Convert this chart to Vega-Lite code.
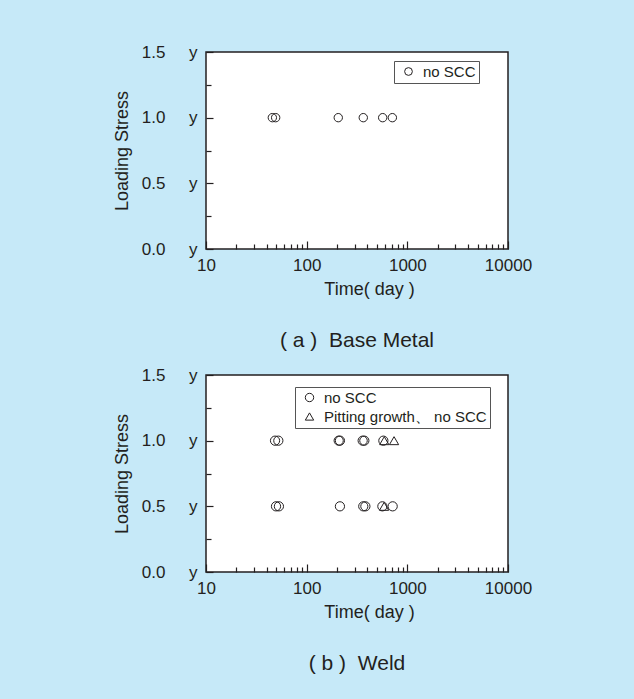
{
  "$schema": "https://vega.github.io/schema/vega-lite/v6.json",
  "autosize": {"type": "none"},
  "padding": {"left": 206, "top": 52, "right": 428, "bottom": 647},
  "background": "#c6e9f8",
  "bounds": "flush",
  "spacing": 126,
  "config": {
    "font": "Liberation Sans",
    "view": {"stroke": "#231f20", "strokeWidth": 1.5, "fill": "white"},
    "axis": {
      "domain": false,
      "grid": false,
      "tickColor": "#231f20",
      "tickWidth": 1.2,
      "labelColor": "#231f20",
      "labelFontSize": 17,
      "titleColor": "#231f20",
      "titleFontSize": 18,
      "titleFontWeight": "normal",
      "labelOverlap": false,
      "labelFlush": false
    },
    "title": {"color": "#231f20", "fontSize": 21, "fontWeight": "normal", "orient": "bottom", "anchor": "middle", "offset": 32},
    "legend": {
      "orient": "none",
      "strokeColor": "#555555",
      "fillColor": "white",
      "padding": 3,
      "labelFontSize": 15,
      "labelColor": "#231f20",
      "labelLimit": 400,
      "symbolStrokeColor": "#231f20",
      "symbolStrokeWidth": 1,
      "symbolFillColor": "transparent",
      "symbolSize": 70,
      "symbolOffset": 4,
      "rowPadding": 3,
      "labelOffset": 7,
      "title": null
    }
  },
  "datasets": {
    "base": [
      {"time": 45.6, "stress": 1.0, "result": "no SCC"},
      {"time": 49.2, "stress": 1.0, "result": "no SCC"},
      {"time": 206, "stress": 1.0, "result": "no SCC"},
      {"time": 365, "stress": 1.0, "result": "no SCC"},
      {"time": 569, "stress": 1.0, "result": "no SCC"},
      {"time": 710, "stress": 1.0, "result": "no SCC"}
    ],
    "weld": [
      {"time": 48.5, "stress": 1.0, "result": "no SCC"},
      {"time": 52.3, "stress": 1.0, "result": "no SCC"},
      {"time": 208, "stress": 1.0, "result": "no SCC"},
      {"time": 214, "stress": 1.0, "result": "no SCC"},
      {"time": 360, "stress": 1.0, "result": "no SCC"},
      {"time": 374, "stress": 1.0, "result": "no SCC"},
      {"time": 578, "stress": 1.0, "result": "no SCC"},
      {"time": 590, "stress": 1.0, "result": "Pitting growth、 no SCC"},
      {"time": 738, "stress": 1.0, "result": "Pitting growth、 no SCC"},
      {"time": 49.6, "stress": 0.5, "result": "no SCC"},
      {"time": 53, "stress": 0.5, "result": "no SCC"},
      {"time": 214, "stress": 0.5, "result": "no SCC"},
      {"time": 365, "stress": 0.5, "result": "no SCC"},
      {"time": 383, "stress": 0.5, "result": "no SCC"},
      {"time": 565, "stress": 0.5, "result": "no SCC"},
      {"time": 588, "stress": 0.5, "result": "Pitting growth、 no SCC"},
      {"time": 715, "stress": 0.5, "result": "no SCC"}
    ]
  },
  "resolve": {"scale": {"x": "independent", "y": "independent", "shape": "independent"}, "legend": {"shape": "independent"}},
  "vconcat": [
    {
      "width": 302,
      "height": 197,
      "title": {"text": "(\u00a0a\u00a0)\u00a0\u00a0Base Metal"},
      "data": {"name": "base"},
      "mark": {"type": "point", "filled": false, "stroke": "#231f20", "strokeWidth": 1, "opacity": 1, "size": 70},
      "encoding": {
        "x": {
          "field": "time", "type": "quantitative",
          "scale": {"type": "log", "domain": [10, 10000], "nice": false},
          "axis": {
            "title": "Time(\u00a0day\u00a0)",
            "titleX": 163,
            "titlePadding": 4,
            "values": [10,20,30,40,50,60,70,80,90,100,200,300,400,500,600,700,800,900,1000,2000,3000,4000,5000,6000,7000,8000,9000,10000],
            "labelExpr": "indexof([10,100,1000,10000], datum.value) >= 0 ? format(datum.value, 'd') : ''",
            "tickSize": {"condition": {"test": "indexof([10,100,1000,10000], datum.value) >= 0", "value": -8}, "value": -5},
            "labelPadding": 16
          }
        },
        "y": {
          "field": "stress", "type": "quantitative",
          "scale": {"domain": [0, 1.5], "nice": false, "zero": false},
          "axis": {
            "title": "Loading Stress",
            "values": [0, 0.25, 0.5, 0.75, 1.0, 1.25, 1.5],
            "labelExpr": "datum.value % 0.5 === 0 ? format(datum.value, '.1f') + '\u00a0\u00a0\u00a0\u00a0\u00a0y' : ''",
            "tickSize": {"condition": {"test": "datum.value % 0.5 === 0", "value": -7}, "value": -5},
            "labelPadding": 16,
            "titlePadding": 10
          }
        },
        "shape": {
          "field": "result", "type": "nominal",
          "scale": {"domain": ["no SCC"], "range": ["circle"]},
          "legend": {"legendX": 188, "legendY": 9, "labelExpr": "datum.label + '\u00a0'", "symbolSize": 60}
        }
      }
    },
    {
      "width": 302,
      "height": 197,
      "title": {"text": "(\u00a0b\u00a0)\u00a0\u00a0Weld"},
      "data": {"name": "weld"},
      "mark": {"type": "point", "filled": false, "stroke": "#231f20", "strokeWidth": 1, "opacity": 1, "size": 85},
      "encoding": {
        "x": {
          "field": "time", "type": "quantitative",
          "scale": {"type": "log", "domain": [10, 10000], "nice": false},
          "axis": {
            "title": "Time(\u00a0day\u00a0)",
            "titleX": 163,
            "titlePadding": 4,
            "values": [10,20,30,40,50,60,70,80,90,100,200,300,400,500,600,700,800,900,1000,2000,3000,4000,5000,6000,7000,8000,9000,10000],
            "labelExpr": "indexof([10,100,1000,10000], datum.value) >= 0 ? format(datum.value, 'd') : ''",
            "tickSize": {"condition": {"test": "indexof([10,100,1000,10000], datum.value) >= 0", "value": -8}, "value": -5},
            "labelPadding": 16
          }
        },
        "y": {
          "field": "stress", "type": "quantitative",
          "scale": {"domain": [0, 1.5], "nice": false, "zero": false},
          "axis": {
            "title": "Loading Stress",
            "values": [0, 0.25, 0.5, 0.75, 1.0, 1.25, 1.5],
            "labelExpr": "datum.value % 0.5 === 0 ? format(datum.value, '.1f') + '\u00a0\u00a0\u00a0\u00a0\u00a0y' : ''",
            "tickSize": {"condition": {"test": "datum.value % 0.5 === 0", "value": -7}, "value": -5},
            "labelPadding": 16,
            "titlePadding": 10
          }
        },
        "shape": {
          "field": "result", "type": "nominal",
          "scale": {"domain": ["no SCC", "Pitting growth、 no SCC"], "range": ["circle", "triangle-up"]},
          "legend": {"legendX": 89, "legendY": 12, "labelExpr": "datum.label + '\u00a0'"}
        }
      }
    }
  ]
}
